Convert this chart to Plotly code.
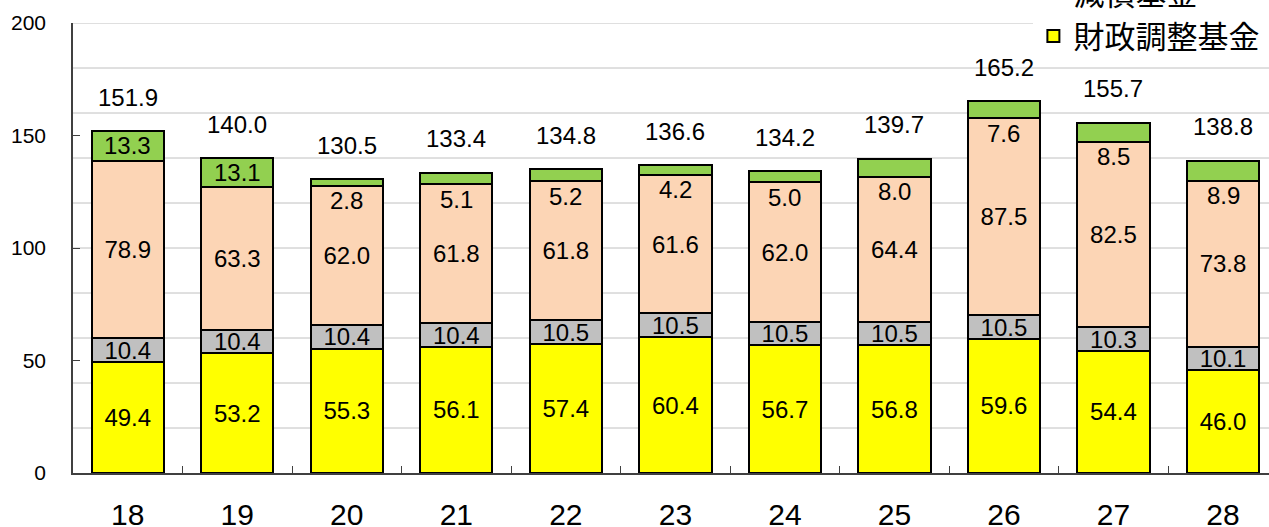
import plotly.graph_objects as go

categories = ["18", "19", "20", "21", "22", "23", "24", "25", "26", "27", "28"]
zaisei = [49.4, 53.2, 55.3, 56.1, 57.4, 60.4, 56.7, 56.8, 59.6, 54.4, 46.0]
gensai = [10.4, 10.4, 10.4, 10.4, 10.5, 10.5, 10.5, 10.5, 10.5, 10.3, 10.1]
tokutei = [78.9, 63.3, 62.0, 61.8, 61.8, 61.6, 62.0, 64.4, 87.5, 82.5, 73.8]
sonota = [13.3, 13.1, 2.8, 5.1, 5.2, 4.2, 5.0, 8.0, 7.6, 8.5, 8.9]
totals = [151.9, 140.0, 130.5, 133.4, 134.8, 136.6, 134.2, 139.7, 165.2, 155.7, 138.8]
grid_values = [20, 40, 60, 80, 100, 120, 140, 160, 180, 200]

names = ["財政調整基金", "減債基金", "その他特定目的基金", "定額運用基金"]
colors = ["#FFFF00", "#C0C0C0", "#FCD5B5", "#92D050"]

NUM_FONT = "Liberation Sans, Arial, sans-serif"
JP_FONT = "Noto Sans CJK JP"
LABEL_SIZE = 24

fig = go.Figure()
series = [zaisei, gensai, tokutei, sonota]
for i, (vals, name, col) in enumerate(zip(series, names, colors)):
    kw = {}
    if i < 3:
        kw = dict(text=[f"{v:.1f}" for v in vals], textposition="inside",
                  insidetextanchor="middle", constraintext="none",
                  textfont=dict(family=NUM_FONT, size=LABEL_SIZE, color="#000000"))
    fig.add_trace(go.Bar(
        x=categories, y=vals, name=name,
        marker=dict(color=col, line=dict(color="#000000", width=2)),
        **kw,
    ))

annotations = []
for idx, t in enumerate(totals):
    annotations.append(dict(x=idx, y=t, xref="x", yref="y", text=f"{t:.1f}",
                            showarrow=False, yanchor="middle", yshift=34,
                            font=dict(family=NUM_FONT, size=LABEL_SIZE, color="#000000")))
for idx, (a, b, d, s) in enumerate(zip(zaisei, gensai, tokutei, sonota)):
    base = a + b + d
    if s >= 10:
        annotations.append(dict(x=idx, y=base + s / 2, xref="x", yref="y", text=f"{s:.1f}",
                                showarrow=False, yanchor="middle",
                                font=dict(family=NUM_FONT, size=LABEL_SIZE, color="#000000")))
    else:
        annotations.append(dict(x=idx, y=base, xref="x", yref="y", text=f"{s:.1f}",
                                showarrow=False, yanchor="middle", yshift=-15,
                                font=dict(family=NUM_FONT, size=LABEL_SIZE, color="#000000")))

shapes = [dict(type="line", xref="paper", x0=0, x1=1, yref="y", y0=g, y1=g,
               layer="below", line=dict(color="#C0C0C0", width=1))
          for g in grid_values]

fig.update_layout(
    width=1269, height=527,
    barmode="stack", bargap=0.34,
    plot_bgcolor="#FFFFFF", paper_bgcolor="#FFFFFF",
    margin=dict(l=73, r=0, t=23, b=54, autoexpand=False),
    showlegend=True,
    legend=dict(x=0.803, xanchor="left", y=0.91, yanchor="bottom",
                traceorder="reversed", bgcolor="#FFFFFF",
                font=dict(family=JP_FONT, size=31, color="#000000"),
                itemclick=False, tracegroupgap=0),
    xaxis=dict(type="category", range=[-0.5, 10.42], tickson="boundaries",
               ticks="inside", ticklen=7, tickcolor="#404040",
               showline=True, linecolor="#404040", linewidth=1.5,
               showgrid=False, ticklabelstandoff=14,
               tickfont=dict(family=NUM_FONT, size=30, color="#000000")),
    yaxis=dict(range=[0, 200], dtick=50, showgrid=False, zeroline=False,
               ticks="inside", ticklen=7, tickcolor="#404040",
               showline=True, linecolor="#404040", linewidth=1.5,
               ticklabelstandoff=21,
               tickfont=dict(family=NUM_FONT, size=21, color="#000000")),
    annotations=annotations,
    shapes=shapes,
)

fig.write_html("out.html", config={"displayModeBar": False},
               post_script="document.body.style.margin='0';")
